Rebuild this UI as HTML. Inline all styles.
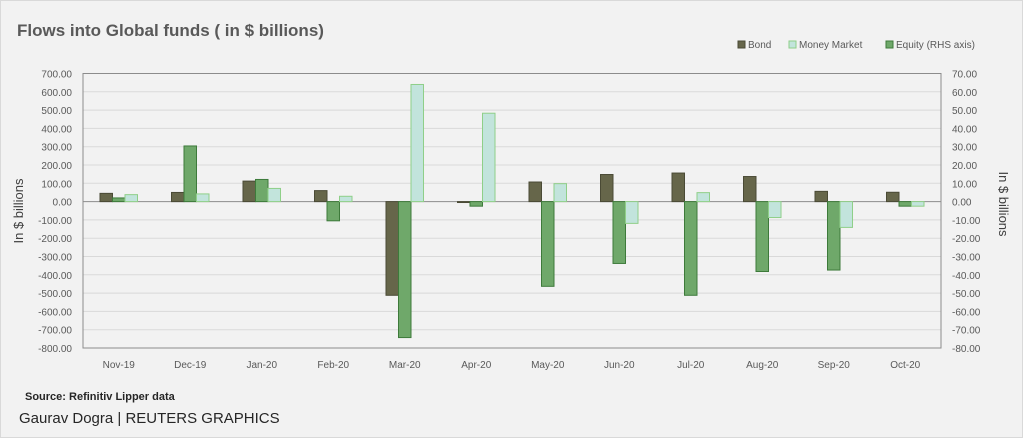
<!DOCTYPE html>
<html><head><meta charset="utf-8"><style>
html,body{margin:0;padding:0;background:#fff}
svg{display:block;font-family:"Liberation Sans",sans-serif}
</style></head><body>
<svg id="chart" width="1024" height="440" viewBox="0 0 1024 440" xmlns="http://www.w3.org/2000/svg">
<rect x="0.5" y="0.5" width="1022" height="437" fill="#f2f2f2" stroke="#d9d9d9"/>
<text x="17" y="36" font-size="17" font-weight="bold" fill="#595959">Flows into Global funds ( in $ billions)</text>
<g font-size="10" fill="#595959">
<g><rect x="738" y="41" width="7" height="7" fill="#66664a" stroke="#4a4a35"/><text x="748" y="48">Bond</text></g>
<g><rect x="789" y="41" width="7" height="7" fill="#c2e4dc" stroke="#8fcf88"/><text x="799" y="48">Money Market</text></g>
<g><rect x="886" y="41" width="7" height="7" fill="#6fa86a" stroke="#3d7a3a"/><text x="896" y="48">Equity (RHS axis)</text></g>
</g>
<g id="grid"></g>
<g id="bars"></g>
<g id="axes"></g>
<text transform="translate(23,211) rotate(-90)" text-anchor="middle" font-size="13" fill="#404040">In $ billions</text>
<text transform="translate(999,204) rotate(90)" text-anchor="middle" font-size="13" fill="#404040">In $ billions</text>
<text x="25" y="400" font-size="11" font-weight="bold" fill="#262626">Source: Refinitiv Lipper data</text>
<text x="19" y="423" font-size="15" fill="#262626">Gaurav Dogra | REUTERS GRAPHICS</text>
</svg>
<script>
const categories = ["Nov-19","Dec-19","Jan-20","Feb-20","Mar-20","Apr-20","May-20","Jun-20","Jul-20","Aug-20","Sep-20","Oct-20"];
const bondValues = [45,50,112,60,-512,-5,107,148,156,137,56,51];
const moneyMarketValues = [38,42,72,29,640,483,98,-119,49,-87,-141,-25];
const equityValues = [2,30.4,12.1,-10.5,-74.3,-2.5,-46.3,-33.8,-51.2,-38.2,-37.4,-2.5];
const leftTicks = [700,600,500,400,300,200,100,0,-100,-200,-300,-400,-500,-600,-700,-800];
const rightTicks = [70,60,50,40,30,20,10,0,-10,-20,-30,-40,-50,-60,-70,-80];

const NS = "http://www.w3.org/2000/svg";
const X0 = 83, X1 = 941, Y0 = 73.5, Y1 = 348;
const LMAX = 700, LMIN = -800, RMAX = 70, RMIN = -80;
const yL = v => Y0 + (LMAX - v) / (LMAX - LMIN) * (Y1 - Y0);
const yR = v => Y0 + (RMAX - v) / (RMAX - RMIN) * (Y1 - Y0);
const band = (X1 - X0) / categories.length;
const xC = i => X0 + band * (i + 0.5);
const BW = 12.5;
function mk(tag, attrs, parent){ const e=document.createElementNS(NS,tag); for(const k in attrs) e.setAttribute(k,attrs[k]); parent.appendChild(e); return e; }
const grid = document.getElementById("grid"), bars = document.getElementById("bars"), axes = document.getElementById("axes");

leftTicks.forEach((t,i) => {
  const y = yL(t);
  const g = mk("line",{x1:X0,x2:X1,y1:y,y2:y,stroke:t===0?"#8c8c8c":"#d9d9d9","stroke-width":1},grid);
  
  
  const lt = mk("text",{x:X0-11,y:y+4,"text-anchor":"end","font-size":10,fill:"#595959"},axes);
  lt.textContent = t.toFixed(2);
  
  
});
rightTicks.forEach(t => {
  const y = yR(t);
  const rt = mk("text",{x:X1+11,y:y+4,"text-anchor":"start","font-size":10,fill:"#595959"},axes);
  rt.textContent = t.toFixed(2);
  
  
});
const frame = mk("rect",{x:X0,y:Y0,width:X1-X0,height:Y1-Y0,fill:"none",stroke:"#8c8c8c","stroke-width":1},axes);



function bar(x, ya, yb, fill, stroke, name){
  const top = Math.min(ya,yb), h = Math.max(Math.abs(yb-ya),0.8);
  const r = mk("rect",{x:x,y:top,width:BW,height:h,fill:fill,stroke:stroke,"stroke-width":1},bars);
  
  
}
categories.forEach((c,i) => {
  const start = xC(i) - 1.5*BW;
  bar(start, yL(0), yL(bondValues[i]), "#66664a", "#4a4a35", "bond-bar");
  bar(start+BW, yR(0), yR(equityValues[i]), "#6fa86a", "#3d7a3a", "equity-bar");
  bar(start+2*BW, yL(0), yL(moneyMarketValues[i]), "#c2e4dc", "#8fcf88", "money-market-bar");
  const lbl = mk("text",{x:xC(i),y:368,"text-anchor":"middle","font-size":10,fill:"#595959"},axes);
  lbl.textContent = c;
  
  
});
</script>
</body></html>
